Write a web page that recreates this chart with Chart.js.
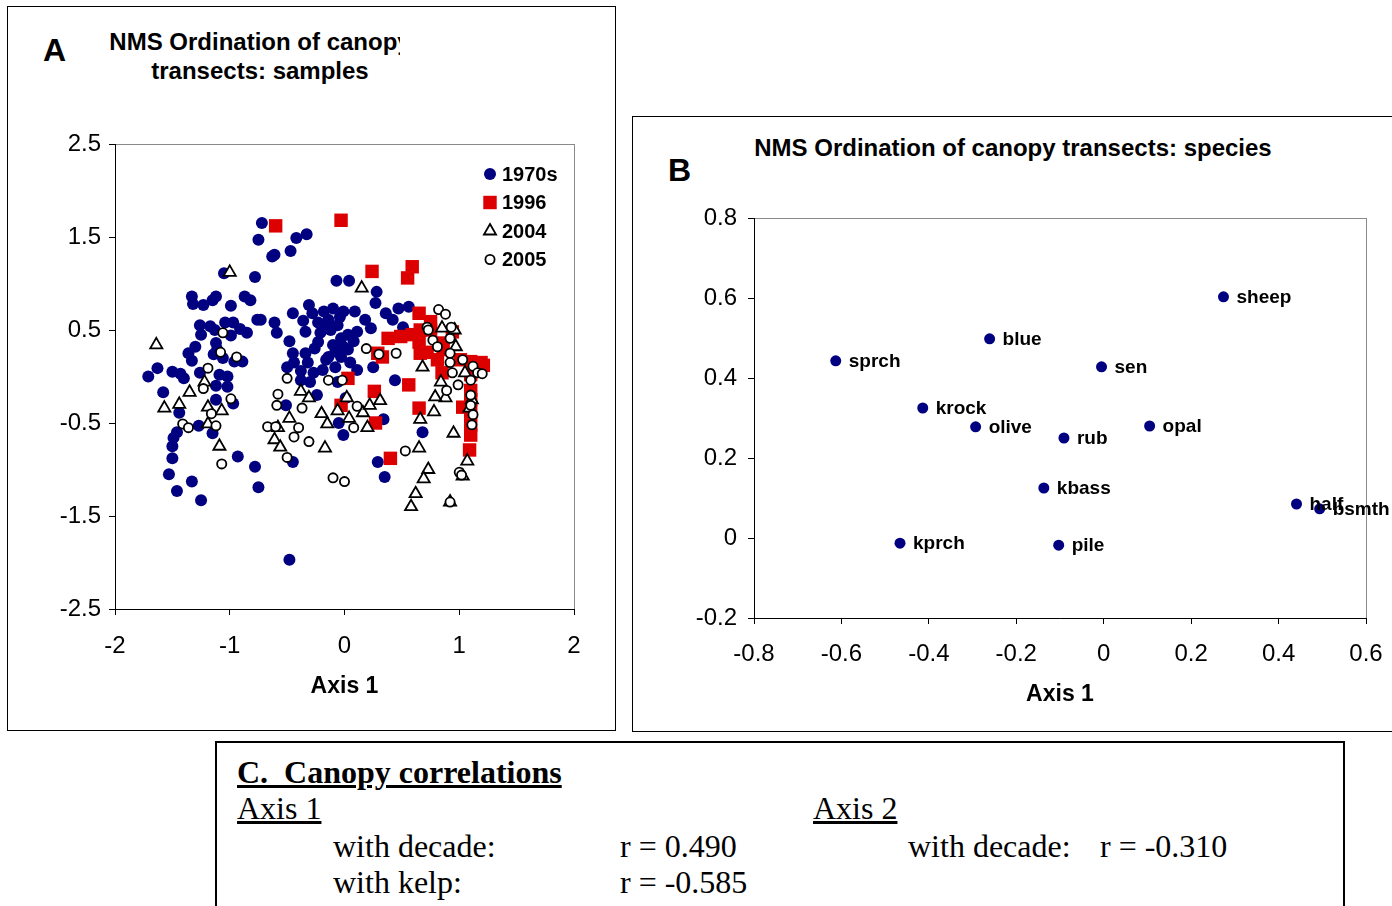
<!DOCTYPE html>
<html>
<head>
<meta charset="utf-8">
<script src="https://cdn.jsdelivr.net/npm/chart.js@4.4.1/dist/chart.umd.min.js"></script>
<style>
  html, body { margin: 0; padding: 0; background: #fff; }
  body { width: 1392px; height: 906px; position: relative; overflow: hidden; font-family: "Liberation Sans", Arial, sans-serif; }
  .box { position: absolute; border: 1px solid #000; box-sizing: border-box; }
  .abs { position: absolute; white-space: pre; }
  .bold { font-weight: bold; }
  .serif { font-family: "Liberation Serif", "Times New Roman", serif; font-size: 32px; line-height: 32px; }
  canvas { position: absolute; }
</style>
</head>
<body>

<div class="box" style="left:7px; top:6px; width:609px; height:725px;"></div>
<div class="box" style="left:632px; top:116px; width:800px; height:616px;"></div>
<div class="box" style="left:215px; top:741px; width:1130px; height:220px; border-width:2px;"></div>

<div class="abs bold" style="left:43px; top:34px; font-size:32px; line-height:32px;">A</div>
<div style="position:absolute; left:100px; top:27px; width:300px; height:70px; overflow:hidden;">
  <div class="bold" style="width:320px; text-align:center; font-size:24px; line-height:29px; white-space:nowrap;">NMS Ordination of canopy<br>transects: samples</div>
</div>

<div class="abs bold" style="left:668px; top:154px; font-size:32px; line-height:32px;">B</div>
<div class="abs bold" style="left:713px; top:134px; width:600px; text-align:center; font-size:24px; line-height:28px;">NMS Ordination of canopy transects: species</div>

<canvas id="samplesChart" style="left:8px; top:7px;" width="606" height="722"></canvas>
<canvas id="speciesChart" style="left:633px; top:117px;" width="759" height="613"></canvas>

<!-- correlations table -->
<div class="abs serif bold" style="left:237px; top:756px; text-decoration:underline;">C.  Canopy correlations</div>
<div class="abs serif" style="left:237px; top:792px; text-decoration:underline;">Axis 1</div>
<div class="abs serif" style="left:813px; top:792px; text-decoration:underline;">Axis 2</div>
<div class="abs serif" style="left:333px; top:830px;">with decade:</div>
<div class="abs serif" style="left:620px; top:830px;">r = 0.490</div>
<div class="abs serif" style="left:908px; top:830px;">with decade:</div>
<div class="abs serif" style="left:1100px; top:830px;">r = -0.310</div>
<div class="abs serif" style="left:333px; top:866px;">with kelp:</div>
<div class="abs serif" style="left:620px; top:866px;">r = -0.585</div>

<script>
// ---- panel A: sample scores [axis1, axis2] by survey period ----
const samples1970s = [
  [-0.72,1.65],[-0.75,1.47],[-0.63,1.29],[-0.61,1.31],[-0.47,1.35],[-0.42,1.49],[-0.33,1.53],[-1.05,1.11],
  [-0.78,1.07],[-0.87,0.86],[-1.33,0.86],[-1.32,0.78],[-1.23,0.77],[-1.15,0.82],[-1.12,0.86],[-0.99,0.76],
  [-0.82,0.82],[-0.76,0.61],[-1.26,0.55],[-1.25,0.45],[-1.17,0.54],[-1.13,0.50],[-1.04,0.58],[-0.97,0.58],
  [-0.91,0.51],[-0.85,0.47],[-0.99,0.44],[-1.12,0.36],[-1.11,0.29],[-1.14,0.24],[-1.30,0.32],[-1.36,0.25],
  [-1.33,0.17],[-0.96,0.16],[-0.89,0.16],[-1.06,0.20],[-1.63,0.09],[-1.71,0.00],[-1.50,0.05],[-1.43,0.03],
  [-1.40,-0.02],[-1.26,0.04],[-1.09,0.02],[-1.02,0.00],
  [-0.07,1.03],[0.04,1.03],[0.28,0.91],[0.27,0.79],[-0.31,0.77],[-0.28,0.68],[-0.18,0.70],[-0.10,0.73],
  [-0.01,0.70],[0.09,0.70],[-0.45,0.68],[-0.73,0.61],[-0.61,0.58],[-0.59,0.47],[0.18,0.61],[-0.23,0.58],
  [-0.14,0.61],[-0.06,0.55],[-0.12,0.50],[-0.21,0.47],[-0.34,0.48],[-0.48,0.38],[0.03,0.45],[0.11,0.48],
  [0.23,0.52],[-0.03,0.41],[-0.23,0.37],[-0.10,0.34],[-0.01,0.32],[-0.14,0.21],[-0.03,0.21],[0.03,0.29],
  [-0.34,0.25],[-0.45,0.25],[-0.44,0.15],[-0.50,0.10],[-0.32,0.15],[-0.27,0.04],[-0.19,0.07],[-0.08,0.10],
  [0.05,0.15],[0.11,0.07],[0.25,0.10],[-0.30,-0.06],[-0.06,-0.06],
  [-0.36,0.60],[-0.17,0.52],[-0.04,0.64],[-0.26,0.30],[-0.08,0.27],[0.08,0.38],[-0.38,0.06],[-0.16,0.18],
  [0.56,0.75],[0.47,0.73],[0.36,0.68],[0.42,0.61],[0.51,0.53],[0.44,-0.04],
  [-1.58,-0.17],[-1.44,-0.39],[-1.46,-0.60],[-1.49,-0.66],[-1.50,-0.75],[-1.50,-0.88],[-1.53,-1.05],
  [-1.33,-1.13],[-1.46,-1.23],[-1.25,-1.33],[-0.93,-0.86],[-0.78,-0.97],[-0.75,-1.19],[-1.12,-0.25],
  [-0.97,-0.29],[-1.27,-0.53],[-1.15,-0.61],[-1.02,-0.11],[-1.12,-0.10],[-0.51,-0.31],[-0.45,-0.92],
  [-0.01,-0.63],[-0.05,-0.50],[0.29,-0.92],[-0.48,-1.97],[0.68,-0.60],[0.35,-1.08],[0.34,-0.46],
  [-0.24,-0.20],[0.01,-0.23],[-0.38,-0.04]
];
const samples1996 = [
  [-0.60,1.62],[-0.03,1.68],[0.24,1.13],[0.59,1.18],[0.55,1.06],[0.65,0.68],[0.75,0.59],[0.66,0.50],
  [0.59,0.45],[0.49,0.43],[0.38,0.41],[0.65,0.37],[0.66,0.25],[0.33,0.21],[0.94,0.48],[0.86,0.29],
  [0.81,0.18],[0.85,0.04],[1.19,0.15],[1.21,0.12],[1.10,0.16],[1.01,0.18],[0.29,0.25],[0.03,-0.02],
  [0.27,-0.50],[-0.03,-0.31],[0.65,-0.34],[0.40,-0.88],[1.09,-0.79],[1.03,-0.33],[1.10,-0.52],[1.10,-0.63],
  [0.56,-0.09],[1.10,0.02],[1.10,-0.15],[1.10,-0.25],[1.10,-0.38],[0.26,-0.16],[0.75,0.50],[0.84,0.36],
  [0.72,0.26]
];
const samples2004 = [
  [-1.00,1.12],[-1.64,0.34],[-1.22,-0.06],[0.15,0.95],[0.85,0.52],[0.96,0.50],[0.97,0.32],[0.68,0.10],
  [1.05,0.04],[0.84,-0.06],[-1.57,-0.34],[-1.44,-0.30],[-1.35,-0.17],[-1.19,-0.33],[-1.07,-0.37],[-1.19,-0.51],
  [-1.09,-0.75],[-0.38,-0.16],[-0.48,-0.45],[-0.58,-0.55],[-0.61,-0.68],[-0.56,-0.76],[-0.17,-0.77],[-0.15,-0.51],
  [-0.20,-0.40],[-0.06,-0.37],[0.04,-0.45],[0.20,-0.55],[0.16,-0.39],[0.22,-0.31],[0.02,-0.23],[-0.31,-0.23],
  [0.66,-0.46],[0.78,-0.38],[0.95,-0.61],[0.65,-0.77],[0.73,-1.00],[0.69,-1.10],[0.62,-1.26],[0.58,-1.40],
  [1.07,-0.91],[1.03,-1.07],[0.92,-1.35],[0.88,-0.23],[0.79,-0.22],[0.31,-0.26],[1.11,-0.25],[1.09,-0.34]
];
const samples2005 = [
  [-1.06,0.47],[-1.08,0.26],[-0.94,0.21],[-1.19,0.09],[0.19,0.30],[0.30,0.24],[-0.50,-0.02],[-0.14,-0.04],
  [-0.02,-0.04],[0.82,0.72],[0.88,0.67],[0.72,0.53],[0.73,0.50],[0.77,0.39],[0.93,0.53],[0.92,0.41],
  [0.81,0.32],[0.45,0.25],[0.92,0.25],[1.03,0.18],[0.92,0.15],[1.12,0.11],[0.94,0.04],[1.16,0.04],
  [1.20,0.03],[-1.23,-0.13],[-0.99,-0.24],[-1.16,-0.40],[-1.41,-0.51],[-1.36,-0.55],[-1.12,-0.53],[-1.07,-0.94],
  [-0.58,-0.19],[-0.59,-0.31],[-0.37,-0.34],[-0.67,-0.54],[-0.60,-0.54],[-0.40,-0.55],[-0.44,-0.65],[-0.31,-0.70],
  [-0.50,-0.87],[-0.10,-1.09],[0.00,-1.13],[0.08,-0.55],[0.11,-0.32],[0.53,-0.80],[1.00,-1.03],[1.02,-1.06],
  [0.92,-1.35],[1.10,-0.04],[1.10,-0.20],[1.10,-0.31],[1.12,-0.41],[1.11,-0.52],[0.89,-0.15],[0.99,-0.09]
];
const periodLabels = ['1970s', '1996', '2004', '2005'];
const samplesXTicks = [-2, -1, 0, 1, 2];
const samplesYTicks = [-2.5, -1.5, -0.5, 0.5, 1.5, 2.5];

// ---- panel B: species scores ----
const speciesNames = ['sprch', 'blue', 'sen', 'sheep', 'krock', 'olive', 'rub', 'opal', 'kbass', 'half', 'bsmth', 'kprch', 'pile'];
const speciesAxis1 = [-0.613, -0.261, -0.005, 0.274, -0.414, -0.293, -0.091, 0.105, -0.137, 0.441, 0.494, -0.466, -0.103];
const speciesAxis2 = [0.443, 0.498, 0.428, 0.603, 0.325, 0.278, 0.250, 0.280, 0.125, 0.085, 0.073, -0.013, -0.018];
const speciesXTicks = [-0.8, -0.6, -0.4, -0.2, 0, 0.2, 0.4, 0.6];
const speciesYTicks = [-0.2, 0, 0.2, 0.4, 0.6, 0.8];

const FONT = 'Liberation Sans, Arial, sans-serif';
Chart.defaults.font.family = FONT;
Chart.defaults.color = '#000';

const toPoints = arr => arr.map(p => ({ x: p[0], y: p[1] }));

function drawMarker(ctx, style, x, y, r, fill, stroke, bw) {
  ctx.save();
  ctx.beginPath();
  if (style === 'rect') {
    const s = r * Math.SQRT1_2;
    ctx.rect(x - s, y - s, 2 * s, 2 * s);
  } else if (style === 'triangle') {
    ctx.moveTo(x, y - r);
    ctx.lineTo(x + r * 0.866, y + r / 2);
    ctx.lineTo(x - r * 0.866, y + r / 2);
    ctx.closePath();
  } else {
    ctx.arc(x, y, r, 0, Math.PI * 2);
  }
  ctx.fillStyle = fill;
  ctx.fill();
  if (bw) { ctx.lineWidth = bw; ctx.strokeStyle = stroke; ctx.stroke(); }
  ctx.restore();
}

// grey frame round the plot area, drawn under the axes
const plotFrame = {
  id: 'plotFrame',
  beforeDraw(chart) {
    const { ctx, chartArea: a } = chart;
    ctx.save();
    ctx.strokeStyle = '#8a8a8a';
    ctx.lineWidth = 1;
    ctx.strokeRect(a.left + 0.5, a.top + 0.5, a.right - a.left, a.bottom - a.top);
    ctx.restore();
  }
};

function axis(tickValues, min, max, size, title, pad, horizontal) {
  return {
    type: 'linear',
    min: min,
    max: max,
    afterBuildTicks: s => { s.ticks = tickValues.map(v => ({ value: v })); },
    afterFit: s => {
      if (horizontal) s.height = size; else s.width = size;
      s.paddingLeft = s.paddingRight = s.paddingTop = s.paddingBottom = 0;
    },
    grid: { drawOnChartArea: false, drawTicks: true, tickLength: 6, color: '#000', lineWidth: 1 },
    border: { display: true, color: '#000', width: 1 },
    ticks: {
      font: { size: 24 },
      padding: pad,
      maxRotation: 0,
      autoSkip: false,
      callback: v => String(v)
    },
    title: {
      display: !!title,
      text: title,
      font: { size: 23, weight: 'bold' },
      padding: 0
    }
  };
}

// ---- panel A ----
const periodLegend = {
  id: 'periodLegend',
  afterDraw(chart) {
    const { ctx, chartArea } = chart;
    chart.data.datasets.forEach((ds, i) => {
      const x = chartArea.right - 84;
      const y = chartArea.top + 30 + i * 28.5;
      drawMarker(ctx, ds.pointStyle, x, y, ds.pointRadius, ds.backgroundColor, ds.borderColor, ds.borderWidth);
      ctx.save();
      ctx.fillStyle = '#000';
      ctx.font = 'bold 20px ' + FONT;
      ctx.textBaseline = 'middle';
      ctx.textAlign = 'left';
      ctx.fillText(ds.label, x + 12, y + 1);
      ctx.restore();
    });
  }
};

new Chart(document.getElementById('samplesChart'), {
  type: 'scatter',
  data: {
    datasets: [
      { label: periodLabels[0], data: toPoints(samples1970s), pointStyle: 'circle', pointRadius: 6,
        backgroundColor: '#000080', borderColor: '#000080', borderWidth: 0, order: 3 },
      { label: periodLabels[1], data: toPoints(samples1996), pointStyle: 'rect', pointRadius: 9.5,
        backgroundColor: '#dd0000', borderColor: '#dd0000', borderWidth: 0, order: 2 },
      { label: periodLabels[2], data: toPoints(samples2004), pointStyle: 'triangle', pointRadius: 7,
        backgroundColor: '#ffffff', borderColor: '#000000', borderWidth: 1.8, order: 1 },
      { label: periodLabels[3], data: toPoints(samples2005), pointStyle: 'circle', pointRadius: 4.6,
        backgroundColor: '#ffffff', borderColor: '#000000', borderWidth: 1.8, order: 0 }
    ]
  },
  options: {
    responsive: false,
    animation: false,
    layout: { padding: { left: 47, top: 137, right: 40, bottom: 29 } },
    plugins: { legend: { display: false }, tooltip: { enabled: false } },
    scales: {
      x: axis(samplesXTicks, -2, 2, 91, 'Axis 1', 17, true),
      y: axis(samplesYTicks, -2.5, 2.5, 60, '', 8, false)
    }
  },
  plugins: [plotFrame, periodLegend]
});

// ---- panel B ----
const speciesLabels = {
  id: 'speciesLabels',
  afterDraw(chart) {
    const { ctx } = chart;
    const meta = chart.getDatasetMeta(0);
    ctx.save();
    ctx.fillStyle = '#000';
    ctx.font = 'bold 19px ' + FONT;
    ctx.textBaseline = 'middle';
    ctx.textAlign = 'left';
    meta.data.forEach((pt, i) => ctx.fillText(speciesNames[i], pt.x + 13, pt.y + 1));
    ctx.restore();
  }
};

new Chart(document.getElementById('speciesChart'), {
  type: 'scatter',
  data: {
    datasets: [{
      label: 'species',
      data: speciesAxis1.map((x, i) => ({ x: x, y: speciesAxis2[i] })),
      pointStyle: 'circle',
      pointRadius: 5.5,
      backgroundColor: '#000080',
      borderColor: '#000080',
      borderWidth: 0
    }]
  },
  options: {
    responsive: false,
    animation: false,
    layout: { padding: { left: 61, top: 101, right: 26, bottom: 22 } },
    plugins: { legend: { display: false }, tooltip: { enabled: false } },
    scales: {
      x: axis(speciesXTicks, -0.8, 0.6, 90, 'Axis 1', 16, true),
      y: axis(speciesYTicks, -0.2, 0.8, 60, '', 11, false)
    }
  },
  plugins: [plotFrame, speciesLabels]
});
</script>
</body>
</html>
